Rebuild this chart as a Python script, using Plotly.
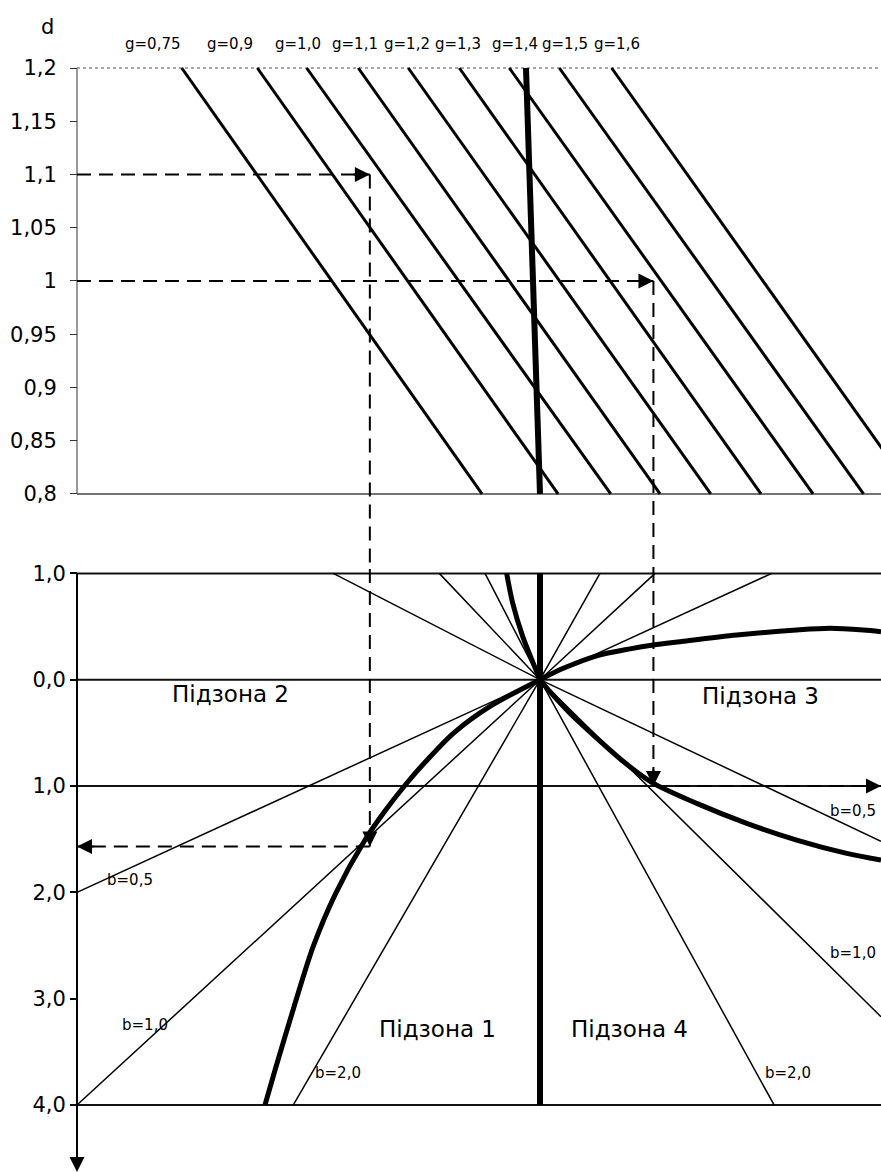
import plotly.graph_objects as go

# ---------------- data ----------------
# upper panel: d axis
d_tickvals = [0.8, 0.85, 0.9, 0.95, 1.0, 1.05, 1.1, 1.15, 1.2]
d_ticktext = ["0,8", "0,85", "0,9", "0,95", "1", "1,05", "1,1", "1,15", "1,2"]

g_names = ["g=0,75", "g=0,9", "g=1,0", "g=1,1", "g=1,2", "g=1,3", "g=1,4", "g=1,5", "g=1,6"]
g_x_at_d12 = [-3.095, -2.442, -2.016, -1.570, -1.138, -0.697, -0.265, 0.167, 0.619]
g_x_at_d08 = [-0.501, 0.156, 0.611, 1.037, 1.475, 1.909, 2.359, 2.795, 3.233]
bold_upper_x = [-0.121, 0.0]
bold_upper_d = [1.2, 0.8]

# lower panel
v_tickvals = [-1, 0, 1, 2, 3, 4]
v_ticktext = ["1,0", "0,0", "1,0", "2,0", "3,0", "4,0"]
h_levels = [-1, 0, 1, 4]

ray_names = ["b=0,5", "b=1,0", "b=2,0", "b=2,0", "b=1,0", "b=0,5"]
ray_x_top = [2.002, 0.994, 0.518, -0.475, -0.870, -1.786]
ray_x_end = [-4.0, -4.0, -2.131, 2.022, 2.946, 2.946]
ray_v_end = [2.0, 4.0, 4.0, 4.0, 3.17, 1.52]

curve1_up_x = [-0.288, -0.236, -0.149, -0.058, 0.0]
curve1_up_v = [-1.0, -0.720, -0.405, -0.154, 0.0]
curve1_down_x = [0.0, -0.432, -0.749, -0.975, -1.152, -1.354, -1.512,
                 -1.765, -1.960, -2.125, -2.289, -2.376]
curve1_down_v = [0.0, 0.251, 0.504, 0.755, 0.974, 1.257, 1.508,
                 2.009, 2.511, 3.076, 3.671, 4.0]
curve2_x = [0.0, 0.201, 0.490, 0.778, 0.979, 1.210, 1.700, 2.218, 2.505, 2.793, 2.946]
curve2_v = [0.0, -0.107, -0.225, -0.290, -0.326, -0.357, -0.420, -0.467, -0.483, -0.467, -0.451]
curve3_x = [0.0, 0.086, 0.259, 0.490, 0.720, 0.965, 1.354, 1.786, 2.218, 2.650, 2.946]
curve3_v = [0.0, 0.113, 0.316, 0.550, 0.770, 0.965, 1.163, 1.351, 1.508, 1.633, 1.696]

guide_d = [1.1, 1.0]       # level in the upper panel
guide_x = [-1.47, 0.98]    # vertical projection
guide_v = [1.57, 1.0]      # level reached in the lower panel

zone_names = ["Підзона 2", "Підзона 3", "Підзона 1", "Підзона 4"]

# ---------------- layout geometry ----------------
W, H = 881, 1173
M_L, M_T = 72, 63
X0_PX, X_UNIT = 540.0, 115.75
D12_PX, D_UNIT = 68.0, 1064.9
V0_PX, V_UNIT = 679.7, 106.32
SPLIT_PX = 569.0
AXIS_PX = 77.0

x_range = [(M_L - X0_PX) / X_UNIT, (W - X0_PX) / X_UNIT]
x_axis = (AXIS_PX - X0_PX) / X_UNIT
x_right = x_range[1]
top_range = [1.2 - (SPLIT_PX - D12_PX) / D_UNIT, 1.2 + (D12_PX - M_T) / D_UNIT]
bot_range = [(H - V0_PX) / V_UNIT, (SPLIT_PX - V0_PX) / V_UNIT]
plot_h = H - M_T
split_paper = (H - SPLIT_PX) / plot_h
axis_pos = (AXIS_PX - M_L) / (W - M_L)


def paper_y(py):
    return (H - py) / plot_h


def paper_x(px):
    return (px - M_L) / (W - M_L)


FONT = "DejaVu Sans"
BLACK = "#000000"

fig = go.Figure()


def line(x, y, yaxis, width, color=BLACK, dash=None, shape="linear"):
    fig.add_trace(go.Scatter(
        x=x, y=y, mode="lines", yaxis=yaxis, hoverinfo="skip", showlegend=False,
        line=dict(color=color, width=width, dash=dash, shape=shape, smoothing=0.8)))


# ---- upper panel frame ----
dmin, dmax = min(d_tickvals), max(d_tickvals)
line([x_axis, x_axis], [dmin, dmax], "y", 1.2, "#555555")
line([x_axis, x_right], [dmax, dmax], "y", 1.5, "#8a8a8a", "dot")
line([x_axis, x_right], [dmin, dmin], "y", 1.5, "#444444")

# g lines
for xt, xb in zip(g_x_at_d12, g_x_at_d08):
    line([xt, xb], [dmax, dmin], "y", 3)
line(bold_upper_x, bold_upper_d, "y", 6)

# ---- lower panel ----
for lv in h_levels:
    line([x_axis, x_right], [lv, lv], "y2", 2, "#111111")
line([x_axis, x_axis], [min(v_tickvals), bot_range[0] - 0.15], "y2", 2)

for xt, xe, ve in zip(ray_x_top, ray_x_end, ray_v_end):
    line([xt, 0.0, xe], [-1, 0.0, ve], "y2", 1.5)

line([0.0, 0.0], [min(v_tickvals), max(v_tickvals)], "y2", 6)
line(curve1_up_x, curve1_up_v, "y2", 5, shape="spline")
line(curve1_down_x, curve1_down_v, "y2", 5, shape="spline")
line(curve2_x, curve2_v, "y2", 5, shape="spline")
line(curve3_x, curve3_v, "y2", 5, shape="spline")

# ---- dashed guides ----
DASH = "14px,8px"
for i in range(2):
    line([x_axis, guide_x[i]], [guide_d[i], guide_d[i]], "y", 2, dash=DASH)
    line([guide_x[i], guide_x[i]], [guide_d[i], top_range[0]], "y", 2, dash=DASH)
    line([guide_x[i], guide_x[i]], [bot_range[1], guide_v[i]], "y2", 2, dash=DASH)
line([guide_x[0], x_axis], [guide_v[0], guide_v[0]], "y2", 2, dash=DASH)
line([guide_x[1], x_right], [guide_v[1], guide_v[1]], "y2", 2, dash=DASH)

annotations = []


def arrow(x, y, yref, ax, ay):
    annotations.append(dict(x=x, y=y, xref="x", yref=yref, ax=ax, ay=ay, text="",
                            showarrow=True, arrowhead=2, arrowsize=1.5, arrowwidth=2,
                            arrowcolor=BLACK))


arrow(guide_x[0], guide_d[0], "y", -18, 0)
arrow(guide_x[1], guide_d[1], "y", -18, 0)
arrow(guide_x[0], guide_v[0], "y2", 0, -18)
arrow(x_axis, guide_v[0], "y2", 18, 0)
arrow(guide_x[1], guide_v[1], "y2", 0, -18)
arrow(x_right, guide_v[1], "y2", -18, 0)
arrow(x_axis, bot_range[0] - 0.01, "y2", 0, -18)


def text(t, x, y, xref, yref, size):
    annotations.append(dict(x=x, y=y, xref=xref, yref=yref, text=t, showarrow=False,
                            xanchor="center", yanchor="middle",
                            font=dict(family=FONT, size=size, color=BLACK)))


g_label_x = [-3.343, -2.678, -2.093, -1.600, -1.152, -0.709, -0.219, 0.216, 0.669]
for name, gx in zip(g_names, g_label_x):
    text(name, gx, paper_y(44), "x", "paper", 15)
text("d", paper_x(47.8), paper_y(26.7), "paper", "paper", 21)

b_label_pos = [(-3.542, 1.884), (-3.416, 3.248), (-1.749, 3.699),
               (2.143, 3.699), (2.700, 2.571), (2.700, 1.235)]
for name, (bx, bv) in zip(ray_names, b_label_pos):
    text(name, bx, bv, "x", "y2", 15)

zone_pos = [(-2.670, 0.134), (1.909, 0.153), (-0.886, 3.285), (0.769, 3.285)]
for name, (zx, zv) in zip(zone_names, zone_pos):
    text(name, zx, zv, "x", "y2", 23)

fig.update_layout(
    width=W, height=H,
    margin=dict(l=M_L, r=0, t=M_T, b=0, pad=0),
    paper_bgcolor="white", plot_bgcolor="white",
    showlegend=False,
    annotations=annotations,
    xaxis=dict(range=x_range, visible=False, showgrid=False, zeroline=False,
               anchor="y2", fixedrange=True),
    yaxis=dict(domain=[split_paper, 1], range=top_range, anchor="free", position=axis_pos,
               tickmode="array", tickvals=d_tickvals, ticktext=d_ticktext,
               ticks="outside", ticklen=7, tickwidth=1.2, tickcolor="#333333",
               ticklabelstandoff=9,
               tickfont=dict(family=FONT, size=21, color=BLACK),
               showgrid=False, zeroline=False, showline=False, fixedrange=True),
    yaxis2=dict(domain=[0, split_paper], range=bot_range, anchor="free", position=axis_pos,
                tickmode="array", tickvals=v_tickvals, ticktext=v_ticktext,
                ticks="outside", ticklen=7, tickwidth=1.5, tickcolor=BLACK,
                ticklabelstandoff=0,
                tickfont=dict(family=FONT, size=21, color=BLACK),
                showgrid=False, zeroline=False, showline=False, fixedrange=True),
)

fig.write_html("out.html", config={"displayModeBar": False},
               post_script="document.body.style.margin='0';document.body.style.overflow='hidden';")
